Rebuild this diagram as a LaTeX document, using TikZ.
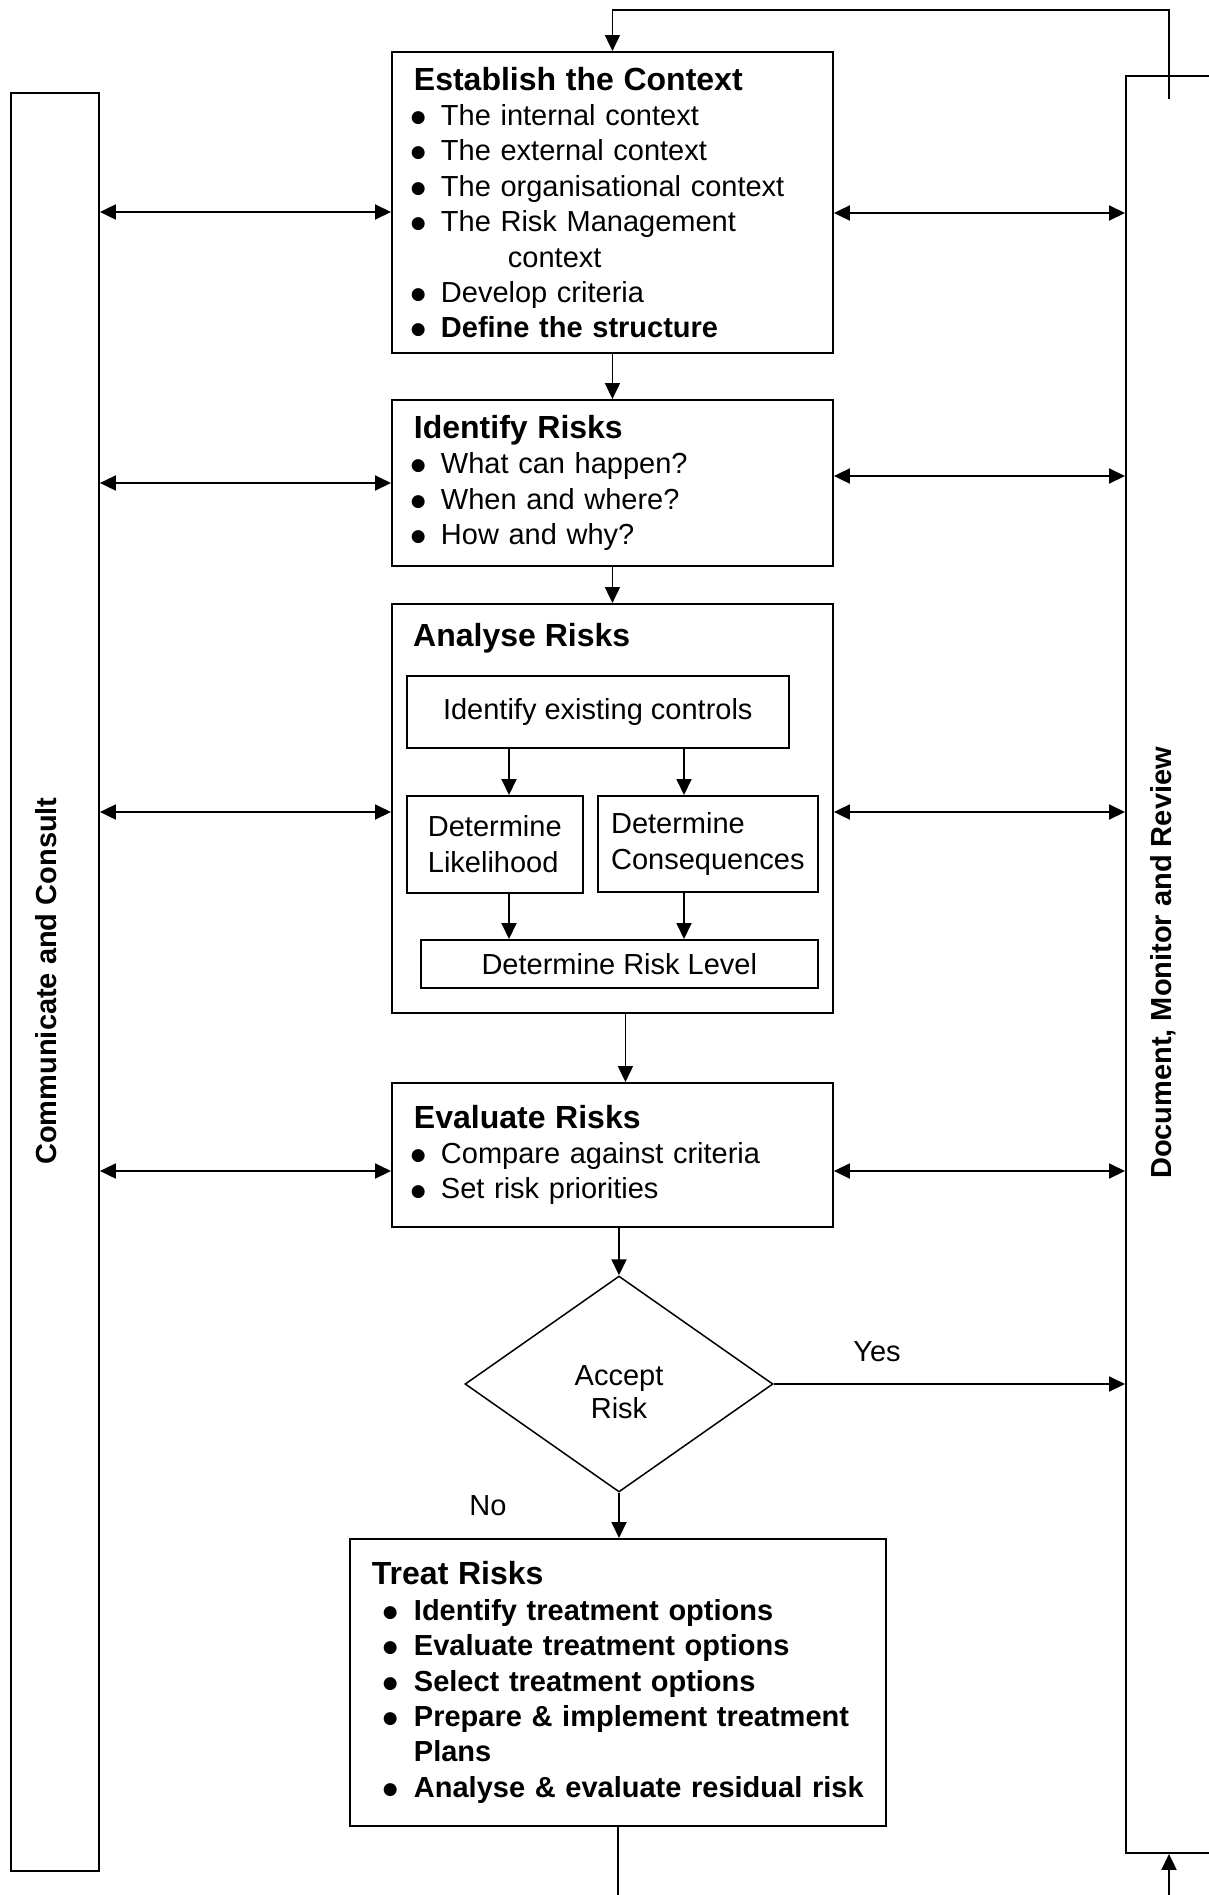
\documentclass[tikz,border=0pt]{standalone}
\usepackage{fontspec}
\setmainfont{Liberation Sans}
\newfontfamily\dotfont{DejaVu Sans}
\usepackage{tikz}
\usetikzlibrary{arrows.meta,positioning,shapes.geometric}
\newcommand{\bodyfnt}{\fontsize{29}{35.4}\selectfont}
\newcommand{\hdfnt}{\fontsize{32}{38}\selectfont\bfseries}
\newsavebox{\dotbox}
\newlength{\btxt}\setlength{\btxt}{27pt}
\newcommand{\bdot}{\sbox{\dotbox}{\dotfont\fontsize{17}{17}\selectfont ●}%
  \raisebox{\dimexpr7.3pt-0.5\ht\dotbox+0.5\dp\dotbox\relax}{\usebox{\dotbox}}}
% bullet line: optional shift of the bullet, text starts at \btxt
\newcommand{\bpt}[2][-3pt]{\par\hangindent=\btxt\hangafter=1\noindent
  \hspace*{#1}\makebox[\dimexpr\btxt-#1\relax][l]{\bdot}#2}
\tikzset{
  stage/.style = {draw, line width=1.9pt, align=left, inner xsep=22pt, inner ysep=0pt,
                  anchor=north west, font=\bodyfnt},
  sub/.style   = {draw, line width=1.6pt, align=left, inner sep=0pt, anchor=north west,
                  font=\bodyfnt},
  side/.style  = {draw, line width=1.9pt, inner sep=0pt, anchor=north west},
  vlbl/.style  = {rotate=90, font=\bodyfnt\bfseries},
  lbl/.style   = {font=\bodyfnt},
  ar/.style    = {-{Triangle[length=16pt,width=15pt]}, line width=1.9pt},
  dar/.style   = {{Triangle[length=16pt,width=15pt]}-{Triangle[length=16pt,width=15pt]},
                  line width=1.9pt},
}
\begin{document}
\begin{tikzpicture}[x=1pt,y=-1pt]
  \path[fill=white, use as bounding box] (0,0) rectangle (1208,1895);

  % side bars
  \node[side, minimum width=88, minimum height=1778] (comm) at (10,92) {};
  \node[vlbl] (commlbl) at (46,981) {Communicate and Consult};
  \node[side, minimum width=90, minimum height=1777] (review) at (1125,75) {};
  \node[vlbl] (reviewlbl) at (1163,963) {Document, Monitor and Review};

  % main stages
  \node[stage, text width=397, minimum height=301] (estab) at (391,51) {%
    {\hdfnt Establish the Context\par}
    \bpt{The internal context}
    \bpt{The external context}
    \bpt{The organisational context}
    \bpt{The Risk Management\newline\hspace*{67pt}context}
    \bpt{Develop criteria}
    \bpt{\textbf{Define the structure}}};
  \node[stage, text width=397, minimum height=166] (ident) at (391,399) {%
    {\hdfnt Identify Risks\par}
    \bpt{What can happen?}
    \bpt{When and where?}
    \bpt{How and why?}};
  \node[stage, minimum width=441, minimum height=409] (analyse) at (391,603) {};
  \node[anchor=base west, inner sep=0pt, font=\hdfnt] (antitle) at (413,646) {Analyse Risks};
  \node[sub, minimum width=382, minimum height=72] (ctrl) at (406,675) {Identify existing controls};
  \node[sub, minimum width=176, minimum height=97] (lik) at (406,795) {Determine\\Likelihood};
  \node[sub, minimum width=220, minimum height=96] (cons) at (597,795) {Determine\\Consequences};
  \node[sub, minimum width=397, minimum height=48] (lvl) at (420,939) {Determine Risk Level};
  \node[stage, text width=397, minimum height=144] (eval) at (391,1082) {%
    {\hdfnt Evaluate Risks\par}
    \bpt{Compare against criteria}
    \bpt{Set risk priorities}};
  \node[draw, diamond, line width=1.5pt, inner sep=0pt, minimum width=308, minimum height=216,
        label={[align=center, font=\fontsize{29}{33}\selectfont, yshift=-8pt]center:Accept\\Risk}]
        (accept) at (619,1384) {};
  \node[stage, text width=492, minimum height=287] (treat) at (349,1538) {%
    \setlength{\btxt}{42pt}%
    {\hdfnt Treat Risks\par}\bfseries
    \bpt[11pt]{Identify treatment options}
    \bpt[11pt]{Evaluate treatment options}
    \bpt[11pt]{Select treatment options}
    \bpt[11pt]{Prepare \& implement treatment\newline Plans}
    \bpt[11pt]{\mbox{Analyse \& evaluate residual risk}}\par\vspace*{8pt}};

  \coordinate (xa) at (509,0);
  \coordinate (xb) at (684,0);
  \coordinate (fbin) at (1169,99);
  \coordinate (fbout) at (1169,1895);

  % flow
  \draw[ar] (fbin) |- ([yshift=41pt]estab.north) -- (estab.north);
  \draw[ar] (estab) -- (ident);
  \draw[ar] (ident) -- (analyse);
  \draw[ar] (ctrl.south -| xa) -- (lik.north -| xa);
  \draw[ar] (ctrl.south -| xb) -- (cons.north -| xb);
  \draw[ar] (lik.south -| xa) -- (lvl.north -| xa);
  \draw[ar] (cons.south -| xb) -- (lvl.north -| xb);
  \draw[ar] ([xshift=13pt]analyse.south) -- ([xshift=13pt]eval.north);
  \draw[ar] (accept.north |- eval.south) -- (accept.north);
  \draw[ar] (accept.east) -- (accept.east -| review.west);
  \draw[ar] (accept.south) -- (accept.south |- treat.north);
  \draw[line width=1.9pt] (treat.south) -- (treat.south |- fbout);
  \draw[ar] (fbout) -- (fbout |- review.south);
  \node[lbl] (yes) at (877,1352) {Yes};
  \node[lbl] (no) at (488,1506) {No};

  % consult / review links
  \draw[dar] (comm.east |- 0,212) -- (estab.west |- 0,212);
  \draw[dar] (comm.east |- 0,483) -- (ident.west |- 0,483);
  \draw[dar] (comm.east |- 0,812) -- (analyse.west |- 0,812);
  \draw[dar] (comm.east |- 0,1171) -- (eval.west |- 0,1171);
  \draw[dar] (estab.east |- 0,213) -- (review.west |- 0,213);
  \draw[dar] (ident.east |- 0,476) -- (review.west |- 0,476);
  \draw[dar] (analyse.east |- 0,812) -- (review.west |- 0,812);
  \draw[dar] (eval.east |- 0,1171) -- (review.west |- 0,1171);
\end{tikzpicture}
\end{document}
